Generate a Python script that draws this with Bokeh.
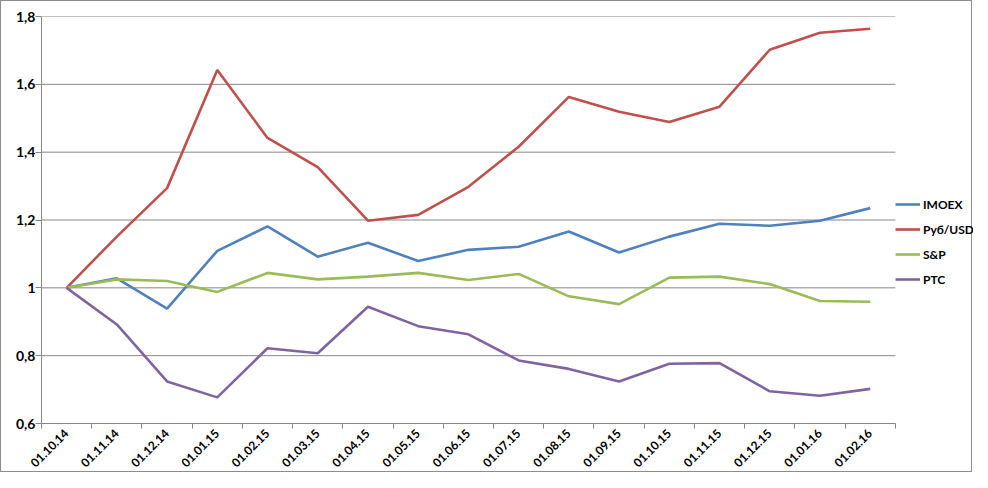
import math
from bokeh.plotting import figure
from bokeh.models import (FixedTicker, CustomJSTickFormatter, Legend, LegendItem,
                          ColumnDataSource)
from bokeh.embed import file_html
from bokeh.resources import INLINE

dates = ["01.10.14", "01.11.14", "01.12.14", "01.01.15", "01.02.15", "01.03.15",
         "01.04.15", "01.05.15", "01.06.15", "01.07.15", "01.08.15", "01.09.15",
         "01.10.15", "01.11.15", "01.12.15", "01.01.16", "01.02.16"]
imoex = [1.0, 1.028, 0.939, 1.109, 1.181, 1.092, 1.133, 1.079, 1.112, 1.121,
         1.166, 1.104, 1.151, 1.189, 1.183, 1.198, 1.235]
rub_usd = [1.0, 1.151, 1.294, 1.642, 1.442, 1.356, 1.198, 1.215, 1.298, 1.416,
           1.563, 1.519, 1.489, 1.534, 1.702, 1.752, 1.764]
snp = [1.0, 1.025, 1.020, 0.988, 1.044, 1.025, 1.033, 1.044, 1.023, 1.041,
       0.975, 0.952, 1.030, 1.033, 1.011, 0.961, 0.959]
rts = [1.0, 0.892, 0.724, 0.677, 0.822, 0.807, 0.944, 0.887, 0.863, 0.786,
       0.761, 0.724, 0.776, 0.778, 0.695, 0.682, 0.702]
series_names = ["IMOEX", "Руб/USD", "S&P", "РТС"]
y_ticks = [0.6, 0.8, 1.0, 1.2, 1.4, 1.6, 1.8]

colors = ["#4F81BD", "#C0504D", "#9BBB59", "#8064A2"]
FONT = "Lato"
GRID = "#868686"

n = len(dates)
xs = [i + 0.5 for i in range(n)]

# layout: plot frame 930 px wide, category area 852 px, rest holds the legend
FRAME_W = 930
CAT_W = 852
x_end = n * FRAME_W / CAT_W

p = figure(width=972, height=472,
           x_range=(0, x_end), y_range=(0.6, 1.8),
           output_backend="svg", toolbar_location=None,
           min_border_left=40, min_border_top=15, min_border_bottom=50,
           min_border_right=0)
p.outline_line_color = None
p.background_fill_color = "white"
p.border_fill_color = "white"

# horizontal gridlines limited to category area
p.segment(x0=[0] * len(y_ticks), x1=[n] * len(y_ticks), y0=y_ticks, y1=y_ticks,
          line_color=GRID, line_width=1)

renderers = []
for vals, col in zip([imoex, rub_usd, snp, rts], colors):
    src = ColumnDataSource(dict(x=xs, y=vals))
    r = p.line("x", "y", source=src, line_color=col, line_width=2.6)
    renderers.append(r)

# x axis
xa = p.xaxis[0]
xa.bounds = (0, n)
xa.ticker = FixedTicker(ticks=xs, minor_ticks=list(range(n + 1)))
xa.major_label_overrides = {x: d for x, d in zip(xs, dates)}
xa.major_label_orientation = math.pi / 4
xa.major_tick_out = 0
xa.major_tick_in = 0
xa.minor_tick_out = 5
xa.minor_tick_in = 0
xa.minor_tick_line_color = GRID
xa.axis_line_color = GRID
xa.major_label_text_font = FONT
xa.major_label_text_font_style = "bold"
xa.major_label_text_font_size = "12px"
xa.major_label_text_color = "#000000"
xa.major_label_standoff = 3

ya = p.yaxis[0]
ya.ticker = FixedTicker(ticks=y_ticks, minor_ticks=[])
ya.formatter = CustomJSTickFormatter(code="""
    const v = Math.round(tick * 10) / 10;
    return v.toString().replace('.', ',');
""")
ya.major_tick_out = 6
ya.major_tick_in = 0
ya.major_tick_line_color = GRID
ya.axis_line_color = GRID
ya.major_label_text_font = FONT
ya.major_label_text_font_style = "bold"
ya.major_label_text_font_size = "14px"
ya.major_label_text_color = "#000000"
ya.major_label_standoff = 0

p.xgrid.grid_line_color = None
p.ygrid.grid_line_color = None

legend = Legend(items=[LegendItem(label=s, renderers=[r]) for s, r in zip(series_names, renderers)],
                location=(CAT_W + 2, 134), orientation="vertical",
                glyph_width=25, glyph_height=20, label_height=20, spacing=5,
                padding=0, margin=0, label_standoff=3,
                border_line_color=None, background_fill_alpha=0,
                label_text_font=FONT, label_text_font_style="bold",
                label_text_font_size="12px", label_text_color="#000000")
p.add_layout(legend)
p.styles = {"border": "1px solid #8c8c8c", "box-sizing": "border-box"}

open("out.html", "w").write(file_html(p, INLINE))
